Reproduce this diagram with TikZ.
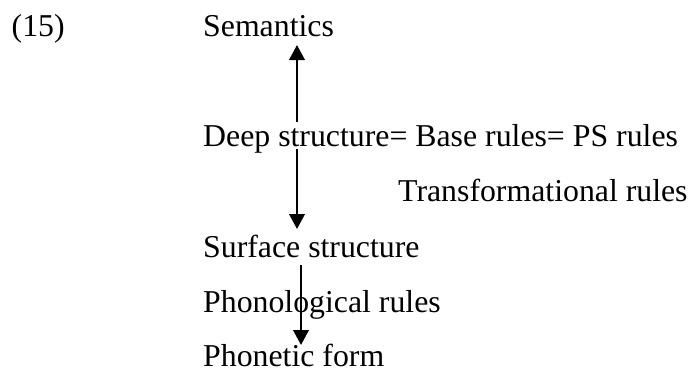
\documentclass[tikz,border=0pt]{standalone}
\usepackage{fontspec}
\setmainfont{Liberation Serif}
\usetikzlibrary{arrows.meta}
\begin{document}
\begin{tikzpicture}[x=1pt,y=1pt,
  label text/.style={anchor=base west,inner sep=0pt,font=\fontsize{31.8}{38}\selectfont},
  flow/.style={line width=2.2pt,-{Triangle[length=15pt,width=15.5pt]}}]
  \useasboundingbox (0,0) rectangle (688,368);
  % text lines, baselines spaced about 55pt apart
  \node[label text] (num)   at (11.5,332) {(15)};
  \node[label text] (sem)   at (203,332)  {Semantics};
  \node[label text] (deep)  at (203,222)  {Deep structure= Base rules= PS rules};
  \node[label text] (trans) at (398,167)  {Transformational rules};
  \node[label text] (surf)  at (203,111)  {Surface structure};
  \node[label text] (phon)  at (203,56)   {Phonological rules};
  \node[label text] (form)  at (203,1.5)  {Phonetic form};
  % arrow end points
  \coordinate (a1s) at (297,246);
  \coordinate (a1e) at (297,323);
  \coordinate (a2s) at (297,219);
  \coordinate (a2e) at (297,139);
  \coordinate (a3s) at (301,103);
  \coordinate (a3e) at (301,23);
  \draw[flow] (a1s) -- (a1e);
  \draw[flow] (a2s) -- (a2e);
  \draw[flow] (a3s) -- (a3e);
\end{tikzpicture}
\end{document}
